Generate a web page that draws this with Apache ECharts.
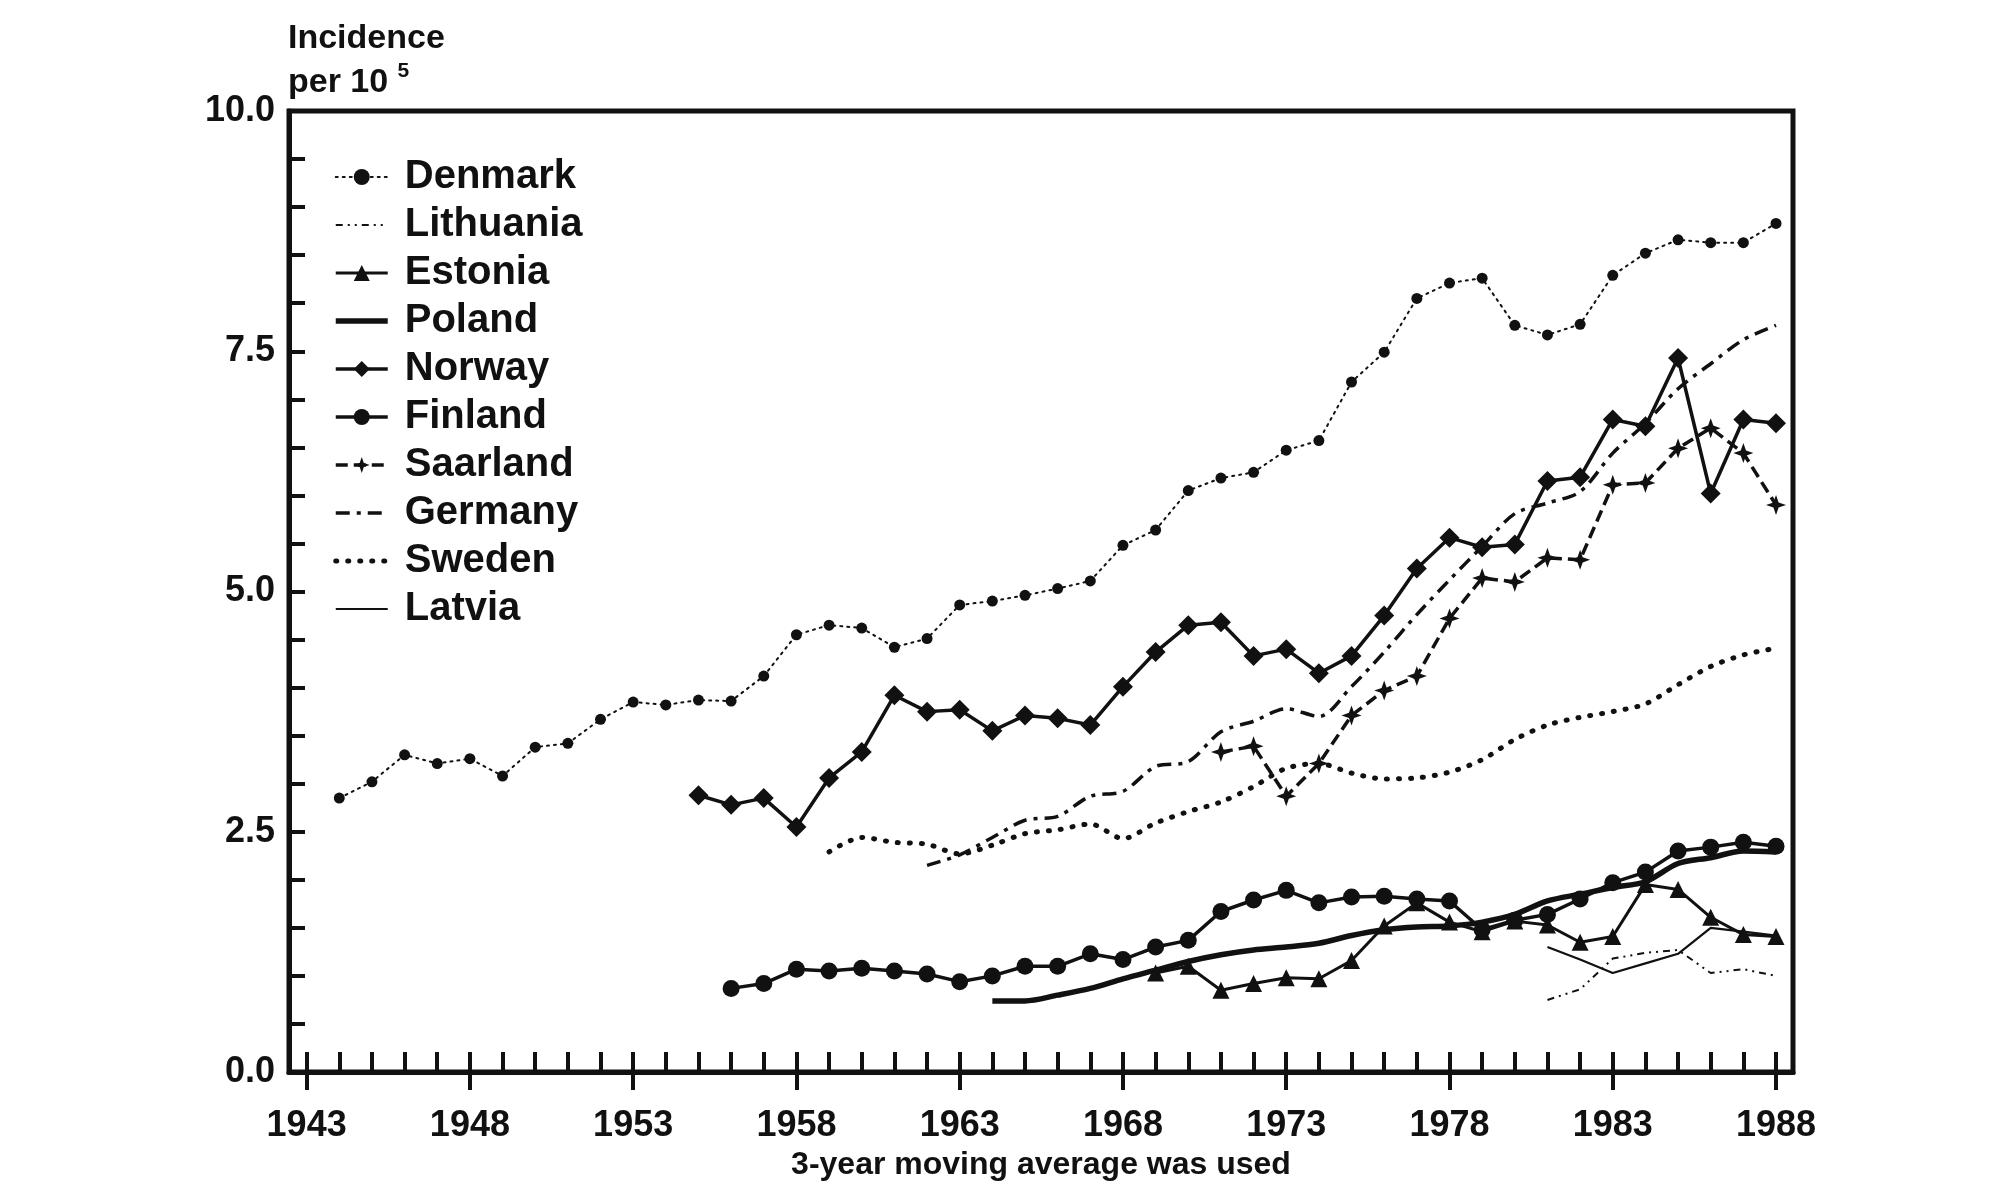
<!DOCTYPE html>
<html>
<head>
<meta charset="utf-8">
<script src="https://cdn.jsdelivr.net/npm/echarts@6/dist/echarts.min.js"></script>
<style>
html,body{margin:0;padding:0;background:#fff;}
#chart{width:2000px;height:1200px;}
</style>
</head>
<body>
<div id="chart"></div>
<script>
// ---- Data (3-year moving average incidence per 100 000) ----
var tickYears = [];
for (var y = 1943; y <= 1988; y++) tickYears.push(y);
var labelYears = [1943, 1948, 1953, 1958, 1963, 1968, 1973, 1978, 1983, 1988];

var denmarkStart = 1944;
var denmarkValues = [2.85,3.02,3.30,3.21,3.26,3.08,3.38,3.42,3.67,3.85,3.82,3.87,3.86,4.12,4.55,4.65,4.62,4.42,4.51,4.86,4.90,4.96,5.03,5.11,5.48,5.64,6.05,6.18,6.24,6.47,6.57,7.18,7.49,8.05,8.21,8.26,7.77,7.67,7.78,8.29,8.52,8.66,8.63,8.63,8.83];

var lithuaniaStart = 1981;
var lithuaniaValues = [0.75,0.86,1.18,1.24,1.27,1.03,1.07,1.00];

var estoniaStart = 1969;
var estoniaValues = [1.03,1.10,0.85,0.92,0.98,0.97,1.16,1.52,1.76,1.56,1.46,1.57,1.53,1.35,1.41,1.95,1.90,1.61,1.43,1.41];

var polandStart = 1964;
var polandValues = [0.74,0.74,0.80,0.87,0.97,1.06,1.15,1.22,1.27,1.30,1.34,1.42,1.48,1.51,1.52,1.56,1.64,1.78,1.85,1.92,1.98,2.17,2.23,2.30,2.29];

var norwayStart = 1955;
var norwayValues = [2.88,2.78,2.85,2.55,3.06,3.33,3.92,3.75,3.77,3.55,3.71,3.68,3.61,4.01,4.37,4.65,4.68,4.33,4.40,4.15,4.33,4.75,5.24,5.56,5.46,5.49,6.15,6.19,6.79,6.72,7.43,6.02,6.79,6.75];

var finlandStart = 1956;
var finlandValues = [0.87,0.92,1.07,1.05,1.08,1.05,1.02,0.94,1.00,1.10,1.10,1.23,1.17,1.30,1.37,1.67,1.79,1.89,1.76,1.82,1.83,1.80,1.78,1.48,1.58,1.64,1.80,1.97,2.08,2.30,2.34,2.39,2.35];

var saarlandStart = 1971;
var saarlandValues = [3.33,3.39,2.87,3.21,3.71,3.97,4.12,4.72,5.14,5.10,5.35,5.33,6.11,6.13,6.49,6.70,6.44,5.90];

var germanyStart = 1962;
var germanyValues = [2.15,2.26,2.44,2.62,2.66,2.87,2.92,3.18,3.23,3.54,3.65,3.78,3.70,4.01,4.37,4.76,5.12,5.47,5.81,5.92,6.04,6.44,6.75,7.11,7.37,7.62,7.77];

var swedenStart = 1959;
var swedenValues = [2.29,2.44,2.39,2.37,2.27,2.36,2.48,2.52,2.58,2.43,2.59,2.71,2.81,2.97,3.16,3.21,3.11,3.05,3.06,3.12,3.25,3.46,3.61,3.69,3.75,3.83,4.03,4.22,4.34,4.41];

var latviaStart = 1981;
var latviaValues = [1.30,1.17,1.03,1.13,1.23,1.50,1.46,1.42];

function pairs(start, vals) {
  return vals.map(function (v, i) { return [start + i, v]; });
}

var FONT = 'Liberation Sans';
var INK = '#111';
var starPath = 'path://M0,-10L2.6,-2.6L10,0L2.6,2.6L0,10L-2.6,2.6L-10,0L-2.6,-2.6Z';

// style per series
var styles = {
  Denmark:   { symbol: 'circle',   symbolSize: 11, width: 2,   type: [2, 5], cap: 'round' },
  Lithuania: { width: 2,   type: [7, 5, 2, 5, 2, 5] },
  Estonia:   { symbol: 'triangle', symbolSize: 17, width: 3 },
  Poland:    { width: 5.5, smooth: 0.3 },
  Norway:    { symbol: 'diamond',  symbolSize: 20, width: 3.5 },
  Finland:   { symbol: 'circle',   symbolSize: 17, width: 3.5 },
  Saarland:  { symbol: starPath,   symbolSize: 20, width: 3.5, type: [12, 6] },
  Germany:   { width: 3.5, type: [14, 7, 4, 7], smooth: 0.3 },
  Sweden:    { width: 5,   type: [1, 11], cap: 'round', smooth: 0.3 },
  Latvia:    { width: 2.2 }
};

function lineSeries(name, data) {
  var opts = styles[name];
  return {
    name: name,
    type: 'line',
    data: data,
    symbol: opts.symbol || 'none',
    symbolSize: opts.symbolSize || 0,
    showSymbol: !!opts.symbol,
    smooth: opts.smooth || false,
    lineStyle: { color: INK, width: opts.width, type: opts.type || 'solid', cap: opts.cap || 'butt' },
    itemStyle: { color: INK, borderWidth: 0 },
    emphasis: { disabled: true },
    animation: false,
    z: 3
  };
}

var legendNames = ['Denmark','Lithuania','Estonia','Poland','Norway','Finland','Saarland','Germany','Sweden','Latvia'];
var legendData = legendNames.map(function (n) {
  var o = styles[n];
  var item = {
    name: n,
    lineStyle: { color: INK, width: o.width, type: o.type || 'solid', cap: o.cap || 'butt' },
    itemStyle: { color: INK, opacity: o.symbol ? 1 : 0, borderWidth: 0 }
  };
  return item;
});

var chart = echarts.init(document.getElementById('chart'), null, { renderer: 'canvas' });

var option = {
  backgroundColor: '#fff',
  animation: false,
  textStyle: { fontFamily: FONT, color: INK },
  graphic: [{
    type: 'text',
    left: 288,
    top: 22,
    style: {
      text: '{a|Incidence}\n{a|per 10 }{s|5}',
      fill: INK,
      rich: {
        a: { fontFamily: FONT, fontSize: 34, fontWeight: 'bold', lineHeight: 44, fill: INK },
        s: { fontFamily: FONT, fontSize: 21, fontWeight: 'bold', lineHeight: 44, verticalAlign: 'top', fill: INK }
      }
    }
  }],
  grid: {
    left: 289, right: 207, top: 111, bottom: 128,
    show: true, borderColor: INK, borderWidth: 5, backgroundColor: 'transparent'
  },
  legend: {
    orient: 'vertical',
    left: 328,
    top: 152,
    itemWidth: 52,
    itemHeight: 20,
    itemGap: 8,
    textStyle: { fontFamily: FONT, fontSize: 40, fontWeight: 'bold', color: INK, lineHeight: 40, padding: [0, 0, 0, 12] },
    data: legendData,
    selectedMode: false
  },
  xAxis: [{
    type: 'value',
    min: 1942.46,
    max: 1988.52,
    position: 'bottom',
    name: '3-year moving average was used',
    nameLocation: 'middle',
    nameGap: 76,
    nameTextStyle: { fontFamily: FONT, fontSize: 32, fontWeight: 'bold', color: INK },
    axisLine: { show: true, lineStyle: { color: INK, width: 5 } },
    axisTick: { show: true, inside: true, length: 20, customValues: tickYears, lineStyle: { color: INK, width: 4 } },
    axisLabel: { show: true, customValues: labelYears, margin: 36, fontFamily: FONT, fontSize: 36, fontWeight: 'bold', color: INK,
      formatter: function (v) { return String(Math.round(v)); } },
    splitLine: { show: false }
  }, {
    type: 'value',
    min: 1942.46,
    max: 1988.52,
    position: 'bottom',
    axisLine: { show: false },
    axisTick: { show: true, inside: false, length: 18, customValues: labelYears, lineStyle: { color: INK, width: 4 } },
    axisLabel: { show: false },
    splitLine: { show: false }
  }],
  yAxis: [{
    type: 'value',
    min: 0,
    max: 10,
    interval: 0.5,
    axisLine: { show: true, lineStyle: { color: INK, width: 5 } },
    axisTick: { show: true, inside: true, length: 16, lineStyle: { color: INK, width: 4 } },
    axisLabel: {
      show: true, interval: 0, margin: 14, fontFamily: FONT, fontSize: 36, fontWeight: 'bold', color: INK,
      formatter: function (v) { return (Math.abs(v / 2.5 - Math.round(v / 2.5)) < 1e-6) ? v.toFixed(1) : ''; }
    },
    splitLine: { show: false }
  }],
  series: [
    lineSeries('Denmark', pairs(denmarkStart, denmarkValues)),
    lineSeries('Lithuania', pairs(lithuaniaStart, lithuaniaValues)),
    lineSeries('Estonia', pairs(estoniaStart, estoniaValues)),
    lineSeries('Poland', pairs(polandStart, polandValues)),
    lineSeries('Norway', pairs(norwayStart, norwayValues)),
    lineSeries('Finland', pairs(finlandStart, finlandValues)),
    lineSeries('Saarland', pairs(saarlandStart, saarlandValues)),
    lineSeries('Germany', pairs(germanyStart, germanyValues)),
    lineSeries('Sweden', pairs(swedenStart, swedenValues)),
    lineSeries('Latvia', pairs(latviaStart, latviaValues))
  ]
};

chart.setOption(option);
</script>
</body>
</html>
